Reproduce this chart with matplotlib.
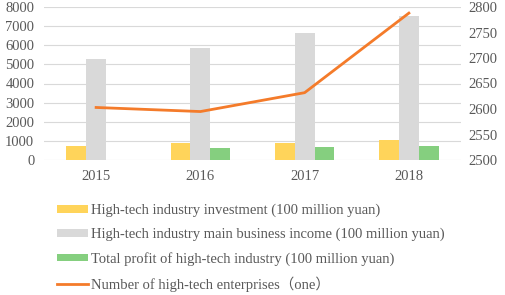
import matplotlib.pyplot as plt
import numpy as np

years = ["2015", "2016", "2017", "2018"]
investment = [750, 870, 910, 1040]
income = [5290, 5880, 6630, 7540]
profit = [0, 630, 700, 750]
enterprises = [2603, 2595, 2632, 2788]

labels = [
    "High-tech industry investment (100 million yuan)",
    "High-tech industry main business income (100 million yuan)",
    "Total profit of high-tech industry (100 million yuan)",
    "Number of high-tech enterprises\uff08one\uff09",
]

plt.rcParams['font.family'] = ['Liberation Serif', 'Noto Sans CJK SC', 'DejaVu Sans']
plt.rcParams['font.size'] = 10.5
text_color = '#595959'

fig = plt.figure(figsize=(5.05, 2.95), dpi=100)
ax = fig.add_axes([44 / 505, 135 / 295, 417 / 505, 153 / 295])

x = np.arange(len(years))
w = 0.19
b1 = ax.bar(x - w, investment, w, color='#FFD45A', label=labels[0], zorder=2)
b2 = ax.bar(x, income, w, color='#D9D9D9', label=labels[1], zorder=2)
b3 = ax.bar(x + w, profit, w, color='#85CF7F', label=labels[2], zorder=2)

ax.set_xlim(-0.5, 3.5)
ax.set_ylim(0, 8000)
ax.set_yticks(range(0, 8001, 1000))
ax.yaxis.grid(True, color='#D9D9D9', linewidth=0.8, zorder=0)
ax.set_axisbelow(True)
ax.set_xticks(x)
ax.set_xticklabels(years)
ax.tick_params(axis='y', length=0, pad=7, colors=text_color)
ax.tick_params(axis='x', length=0, pad=7, colors=text_color)
for s in ax.spines.values():
    s.set_visible(False)

ax2 = ax.twinx()
line, = ax2.plot(x, enterprises, color='#F47B2A', linewidth=2, label=labels[3], zorder=3)
ax2.set_ylim(2500, 2800)
ax2.set_yticks(range(2500, 2801, 50))
ax2.tick_params(axis='y', length=0, pad=5, colors=text_color)
for s in ax2.spines.values():
    s.set_visible(False)

leg = fig.legend([b1, b2, b3, line], labels, loc='upper left',
                 bbox_to_anchor=(57 / 505, 1 - 204 / 295), frameon=False,
                 handlelength=2.1, handleheight=0.45, handletextpad=0.2,
                 labelspacing=0.72, borderpad=0, borderaxespad=0)
for t in leg.get_texts():
    t.set_color(text_color)

fig.savefig("out.png", dpi=100)
